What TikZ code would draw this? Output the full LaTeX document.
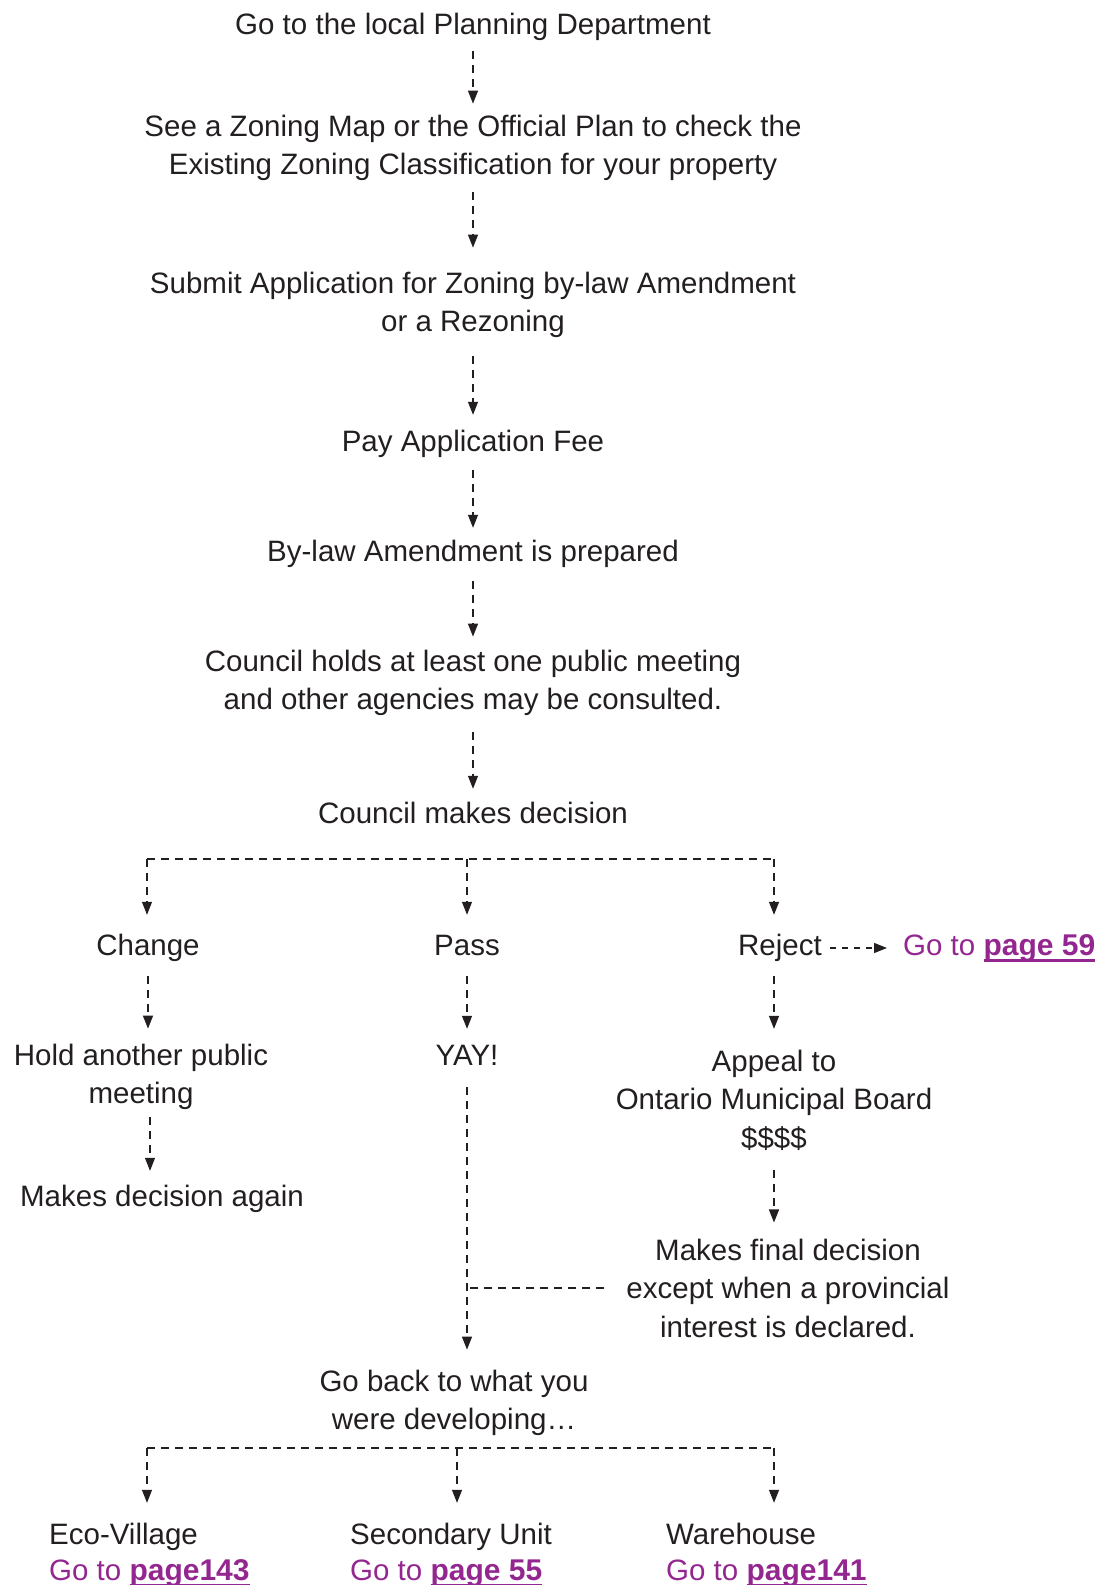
\documentclass[tikz,border=0pt]{standalone}
\usepackage{fontspec}
\setmainfont{Liberation Sans}
\usetikzlibrary{arrows.meta}
\definecolor{ink}{HTML}{231F20}
\definecolor{plum}{HTML}{93278F}
\newcommand{\ulk}[1]{\sbox0{#1}\rlap{\rule[-6pt]{\wd0}{2.5pt}}\usebox0}
\newcommand{\pg}[1]{\ulk{\fontsize{30}{38}\selectfont\bfseries #1}}
\begin{document}
\begin{tikzpicture}[x=1pt,y=-1pt,
  every node/.style={inner sep=0pt, text=ink},
  txt/.style={align=center, font=\fontsize{29.5}{38.5}\selectfont},
  one/.style={txt, text height=21pt, text depth=6pt},
  lab/.style={anchor=west, font=\fontsize{29.5}{38.5}\selectfont, text height=21pt, text depth=6pt},
  lnk/.style={lab, text=plum},
  dl/.style={draw=ink, line width=1.2pt, dash pattern=on 8pt off 6pt},
  arr/.style={dl, -{Triangle[length=13pt,width=10pt]}},
]
\useasboundingbox (0,0) rectangle (1103,1585);

\node[one] (n1) at (473,27) {Go to the local Planning Department};
\node[txt] (n2) at (473,148) {See a Zoning Map or the Official Plan to check the\\Existing Zoning Classification for your property};
\node[txt] (n3) at (473,305) {Submit Application for Zoning by-law Amendment\\or a Rezoning};
\node[one] (n4) at (473,444) {Pay Application Fee};
\node[one] (n5) at (473,554) {By-law Amendment is prepared};
\node[txt] (n6) at (473,683) {Council holds at least one public meeting\\and other agencies may be consulted.};
\node[one] (n7) at (473,816) {Council makes decision};

\node[one] (chg) at (148,948) {Change};
\node[one] (pas) at (467,948) {Pass};
\node[one] (rej) at (780,948) {Reject};
\node[lnk] (g59) at (903,948) {Go to \pg{page 59}};
\node[txt] (hold) at (141,1077) {Hold another public\\meeting};
\node[one] (again) at (162,1199) {Makes decision again};
\node[one] (yay) at (467,1058) {YAY!};
\node[txt] (appeal) at (774,1100) {Appeal to\\Ontario Municipal Board\\\$\$\$\$};
\node[txt] (final) at (788,1288) {Makes final decision\\except when a provincial\\interest is declared.};
\node[txt] (back) at (454,1403) {Go back to what you\\were developing\ldots};
\node[lab] (eco) at (49,1537) {Eco-Village};
\node[lab] (sec) at (350,1537) {Secondary Unit};
\node[lab] (war) at (666,1537) {Warehouse};
\node[lnk] (eco2) at (49,1573) {Go to \pg{page143}};
\node[lnk] (sec2) at (350,1573) {Go to \pg{page 55}};
\node[lnk] (war2) at (666,1573) {Go to \pg{page141}};

% main chain
\draw[arr, shorten <=10.5pt, shorten >=11.2pt] (n1.south) -- (n2.north);
\draw[arr, shorten <=11.2pt, shorten >=24.2pt] (n2.south) -- (n3.north);
\draw[arr, shorten <=18.2pt, shorten >=15.5pt] (n3.south) -- (n4.north);
\draw[arr, shorten <=12.5pt, shorten >=12.5pt] (n4.south) -- (n5.north);
\draw[arr, shorten <=13.5pt, shorten >=13.2pt] (n5.south) -- (n6.north);
\draw[arr, shorten <=16.2pt, shorten >=13.5pt] (n6.south) -- (n7.north);

% first split
\coordinate (b1) at (147,859);
\coordinate (b2) at (467,859);
\coordinate (b3) at (774,859);
\draw[dl] (b1) -- (b3);
\draw[arr, shorten >=19.5pt] (b1) -- (b1 |- chg.north);
\draw[arr, shorten >=19.5pt] (b2) -- (b2 |- pas.north);
\draw[arr, shorten >=19.5pt] (b3) -- (b3 |- rej.north);

\draw[arr, dash pattern=on 6pt off 6pt, shorten <=8pt, shorten >=16pt] (rej.east) -- (g59.west);

% change branch
\draw[arr, shorten <=14.5pt, shorten >=15.2pt] (chg.south) -- (chg.south |- hold.north);
\draw[arr, shorten <=7.2pt, shorten >=14.5pt] ([xshift=9pt]hold.south) -- ([xshift=9pt]hold.south |- again.north);

% pass branch
\draw[arr, shorten <=14.5pt, shorten >=15.5pt] (pas.south) -- (yay.north);
\draw[arr, shorten <=15.5pt, shorten >=20.2pt] (yay.south) -- (yay.south |- back.north);

% reject branch
\draw[arr, shorten <=14.5pt, shorten >=20.7pt] (appeal.north |- rej.south) -- (appeal.north);
\draw[arr, shorten <=19.7pt, shorten >=16pt] (appeal.south) -- (appeal.south |- final.north);
\draw[dl, shorten <=22pt] (final.west) -- (final.west -| yay);

% second split
\coordinate (c1) at (147,1448);
\coordinate (c2) at (457,1448);
\coordinate (c3) at (774,1448);
\draw[dl] (c1) -- (c3);
\draw[arr, shorten >=20.5pt] (c1) -- (c1 |- eco.north);
\draw[arr, shorten >=20.5pt] (c2) -- (c2 |- sec.north);
\draw[arr, shorten >=20.5pt] (c3) -- (c3 |- war.north);
\end{tikzpicture}
\end{document}
